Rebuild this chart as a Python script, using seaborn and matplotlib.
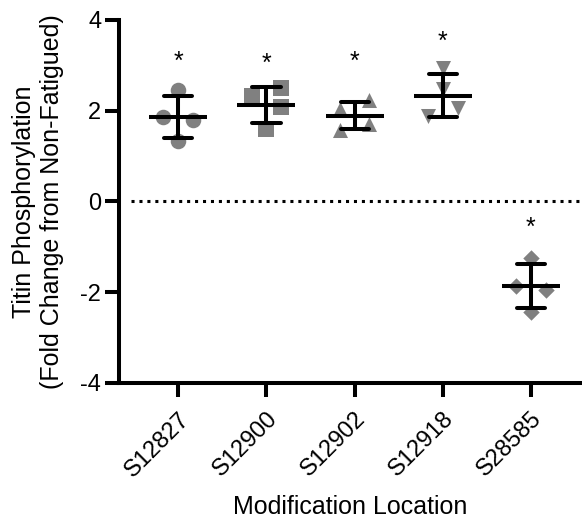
import numpy as np
import pandas as pd
import seaborn as sns
import matplotlib
matplotlib.use("Agg")
import matplotlib.pyplot as plt

# Data (fold change, one value per animal)
sites = ["S12827", "S12900", "S12902", "S12918", "S28585"]
s12827 = [2.45, 1.85, 1.80, 1.32]
s12900 = [2.33, 2.49, 2.08, 1.60]
s12902 = [2.03, 2.24, 1.57, 1.71]
s12918 = [2.93, 2.47, 1.87, 2.05]
s28585 = [-1.25, -1.86, -1.95, -2.43]
values = [s12827, s12900, s12902, s12918, s28585]

# height of the significance stars (centre of the glyph)
star_y = [3.21, 3.17, 3.21, 3.67, -0.43]

# horizontal spread of the points inside each column
spread = [
    [0.0, -0.17, 0.17, 0.0],
    [-0.17, 0.16, 0.16, 0.0],
    [-0.165, 0.165, -0.165, 0.165],
    [0.0, 0.0, -0.17, 0.17],
    [0.0, -0.17, 0.17, 0.0],
]
markers = ["o", "s", "^", "v", "D"]
marker_sizes = [125, 120, 117, 117, 70]

rows = []
for i, site in enumerate(sites):
    for v, dx in zip(values[i], spread[i]):
        rows.append({"site": site, "idx": i, "value": v, "xpos": i + dx})
df = pd.DataFrame(rows)

sns.set_style("ticks")
plt.rcParams["font.family"] = ["Liberation Sans", "DejaVu Sans"]
plt.rcParams["axes.unicode_minus"] = False
plt.rcParams["text.color"] = "black"
plt.rcParams["axes.labelcolor"] = "black"
plt.rcParams["xtick.color"] = "black"
plt.rcParams["ytick.color"] = "black"

fig = plt.figure(figsize=(5.82, 5.21), dpi=100)
ax = fig.add_axes([0.205, 0.265, 0.795, 0.697])

# individual points
for i, site in enumerate(sites):
    sub = df[df["site"] == site]
    sns.scatterplot(data=sub, x="xpos", y="value", marker=markers[i],
                    s=marker_sizes[i], color="#808080", linewidth=0,
                    legend=False, ax=ax)

# mean +/- SD
sns.pointplot(data=df, x="idx", y="value", native_scale=True, errorbar="sd",
              capsize=0.32, color="black", markers="_", markersize=42,
              markeredgewidth=2.9, linestyle="none",
              err_kws={"linewidth": 2.9}, ax=ax)

ax.axhline(0, xmin=0.025, color="black", lw=2.2, linestyle=(0, (1, 1.6)))

for i in range(len(sites)):
    ax.text(i, star_y[i] - 0.3, "*", ha="center", va="baseline", fontsize=18)

ax.set_xlim(-0.67, 4.58)
ax.set_ylim(-4, 4)
ax.set_yticks([-4, -2, 0, 2, 4])
ax.set_xticks(range(len(sites)))
ax.set_xticklabels(sites, rotation=45, ha="right", rotation_mode="anchor")

ax.tick_params(length=10, width=2.9, labelsize=17, color="black", labelcolor="black")
ax.tick_params(axis="y", pad=3)
ax.tick_params(axis="x", pad=8)
sns.despine(ax=ax)
for side in ["left", "bottom"]:
    ax.spines[side].set_linewidth(2.9)
    ax.spines[side].set_color("black")

ax.set_ylabel("Titin Phosphorylation\n(Fold Change from Non-Fatigued)", fontsize=18, labelpad=12)
ax.set_xlabel("Modification Location", fontsize=18, labelpad=10)

fig.savefig("out.png", dpi=100)
